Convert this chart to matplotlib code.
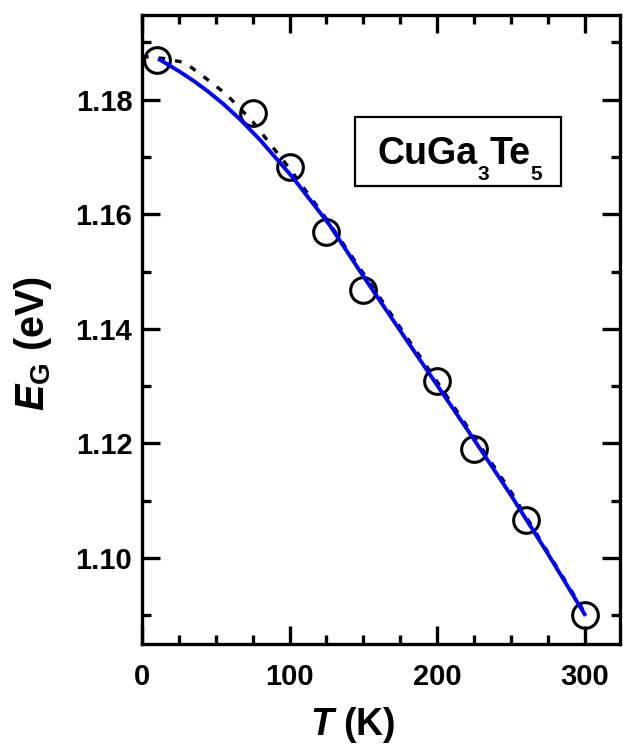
import matplotlib
matplotlib.use("Agg")
import matplotlib.pyplot as plt
from matplotlib.ticker import MultipleLocator, FormatStrFormatter
from matplotlib.patches import Rectangle

# ---- data ----
T_data = [10, 75, 100, 125, 150, 200, 225, 260, 300]
E_data = [1.1870, 1.1777, 1.1682, 1.1570, 1.1468, 1.1309, 1.1191, 1.1067, 1.0900]

T_fit_blue = [12, 25, 35, 45, 55, 66, 80, 102, 127, 150, 175, 200, 225, 250, 275, 300]
E_fit_blue = [1.1870, 1.1850, 1.1833, 1.1814, 1.1793, 1.1767, 1.1730, 1.1665, 1.1582,
              1.1492, 1.1397, 1.1302, 1.1207, 1.1110, 1.1008, 1.0902]

T_fit_black = [0, 15, 29, 43, 57, 75, 100, 125, 150, 200, 250, 300]
E_fit_black = [1.1876, 1.1872, 1.1865, 1.1838, 1.1810, 1.1762, 1.1680, 1.1592,
               1.1497, 1.1308, 1.1116, 1.0905]

x_ticks = [0, 100, 200, 300]
y_ticks = [1.10, 1.12, 1.14, 1.16, 1.18]

label_pieces = [('CuGa', False), ('3', True), ('Te', False), ('5', True)]

# ---- style ----
plt.rcParams['font.family'] = ['Liberation Sans', 'DejaVu Sans']
plt.rcParams['font.weight'] = 'bold'
plt.rcParams['mathtext.fontset'] = 'custom'
plt.rcParams['mathtext.rm'] = 'Liberation Sans:bold'
plt.rcParams['mathtext.bf'] = 'Liberation Sans:bold'
plt.rcParams['mathtext.it'] = 'Liberation Sans:italic:bold'

W, H = 623, 745
fig = plt.figure(figsize=(W / 100, H / 100), dpi=100)
ax = fig.add_axes([142 / W, 1 - 644 / H, 478 / W, 629 / H])

ax.plot(T_data, E_data, linestyle='none', marker='o', markersize=18.5,
        markerfacecolor='none', markeredgecolor='black', markeredgewidth=2.2,
        zorder=2)
ax.plot(T_fit_black, E_fit_black, color='black', linewidth=2.4,
        dashes=(2, 3), zorder=3)
ax.plot(T_fit_blue, E_fit_blue, color='#0000ff', linewidth=2.8, zorder=4)

ax.set_xlim(0, 324)
ax.set_ylim(1.0850, 1.1948)
ax.set_xticks(x_ticks)
ax.set_yticks(y_ticks)
ax.xaxis.set_minor_locator(MultipleLocator(25))
ax.yaxis.set_minor_locator(MultipleLocator(0.01))
ax.yaxis.set_major_formatter(FormatStrFormatter('%.2f'))

for s in ax.spines.values():
    s.set_linewidth(2.4)

ax.tick_params(which='both', direction='in', top=True, right=True,
               width=2.4, labelsize=21)
ax.tick_params(which='major', length=13)
ax.tick_params(which='minor', length=6.5)
ax.tick_params(axis='x', which='major', pad=14)
ax.tick_params(axis='y', which='major', pad=7)
for lab in ax.get_xticklabels() + ax.get_yticklabels():
    lab.set_fontweight('bold')

fig.text(353 / W, 1 - 725 / H, r'$\mathit{T}$ (K)', fontsize=27,
         fontweight='bold', ha='center', va='center')
fig.text(33 / W, 1 - 343 / H, r'$\mathit{E}_\mathbf{G}$ (eV)', fontsize=28.5,
         fontweight='bold', ha='center', va='center', rotation=90)

# label box
x0, x1 = (355 - 142) / 478, (561 - 142) / 478
y0, y1 = (644 - 186) / 629, (644 - 117) / 629
ax.add_patch(Rectangle((x0, y0), x1 - x0, y1 - y0, transform=ax.transAxes,
                       facecolor='white', edgecolor='black', linewidth=1.6,
                       zorder=5))

renderer = fig.canvas.get_renderer()
base_y = 164          # baseline, pixels from top
texts = []
for s, sub in label_pieces:
    t = fig.text(0, 0, s, fontsize=15 if sub else 27, fontweight='bold',
                 ha='left', va='baseline', zorder=6)
    texts.append((t, sub))
widths = [t.get_window_extent(renderer).width for t, _ in texts]
total = sum(widths)
xpos = 460 - total / 2
for (t, sub), w in zip(texts, widths):
    yb = base_y + (16 if sub else 0)
    t.set_position((xpos / W, 1 - yb / H))
    xpos += w

fig.savefig('out.png', dpi=100)
